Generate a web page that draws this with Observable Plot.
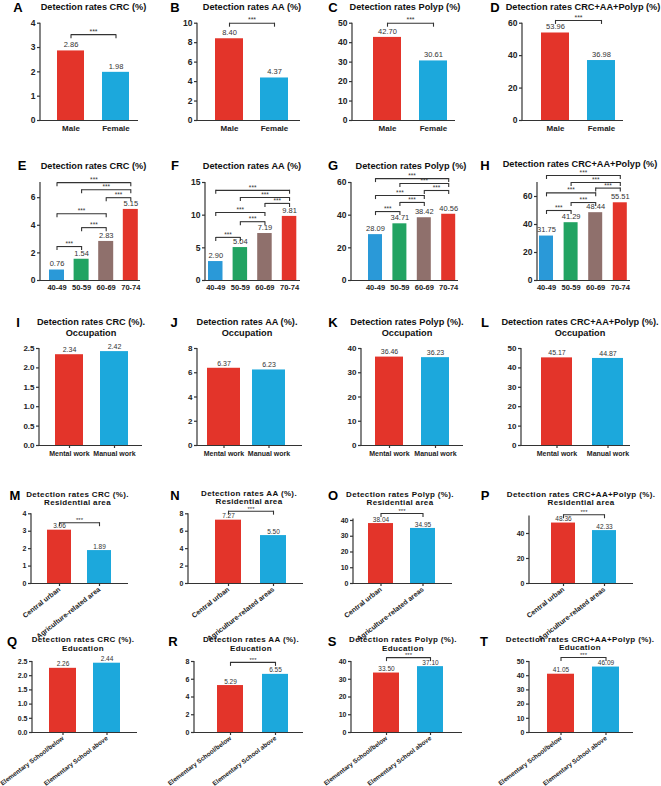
<!DOCTYPE html>
<html><head><meta charset="utf-8">
<script src="https://cdn.jsdelivr.net/npm/d3@7"></script>
<script src="https://cdn.jsdelivr.net/npm/@observablehq/plot@0.6"></script>
<style>
body{margin:0;background:#fff;}
#fig{position:relative;width:661px;height:786px;overflow:hidden;font-family:"Liberation Sans",Arial,sans-serif;background:#fff;}
.ttl{position:absolute;transform:translate(-50%,-50%);font-weight:bold;white-space:nowrap;text-align:center;color:#111;}
.let{position:absolute;transform:translate(-50%,-50%);font-weight:bold;color:#000;font-size:13px;line-height:1;}
.pnl{position:absolute;}
</style></head><body><div id="fig"></div>
<script>
// ---------- categories ----------
const sexCats = ["Male", "Female"];
const ageCats = ["40-49", "50-59", "60-69", "70-74"];
const occCats = ["Mental work", "Manual work"];
const resCats = ["Central urban", "Agriculture-related area"];
const resCats2 = ["Central urban", "Agriculture-related areas"];
const eduCats = ["Elementary School/below", "Elementary School above"];

// ---------- values (%) ----------
const crcSex = [2.86, 1.98], aaSex = [8.40, 4.37], polypSex = [42.70, 30.61], allSex = [53.96, 36.98];
const crcAge = [0.76, 1.54, 2.83, 5.15], aaAge = [2.90, 5.04, 7.19, 9.81];
const polypAge = [28.09, 34.71, 38.42, 40.56], allAge = [31.75, 41.29, 48.44, 55.51];
const crcOcc = [2.34, 2.42], aaOcc = [6.37, 6.23], polypOcc = [36.46, 36.23], allOcc = [45.17, 44.87];
const crcRes = [3.06, 1.89], aaRes = [7.27, 5.50], polypRes = [38.04, 34.95], allRes = [48.36, 42.33];
const crcEdu = [2.26, 2.44], aaEdu = [5.29, 6.55], polypEdu = [33.50, 37.10], allEdu = [41.05, 46.09];

// ---------- significance brackets: [from, to, level] ----------
const brA = [["Male", "Female", 3.53]], brB = [["Male", "Female", 10.0]];
const brC = [["Male", "Female", 50.0]], brD = [["Male", "Female", 61.7]];
const brE = [["40-49","70-74",7.09],["50-59","70-74",6.58],["60-69","70-74",6.0],["40-49","60-69",4.84],["50-59","60-69",3.83],["40-49","50-59",2.46]];
const brF = [["40-49","70-74",13.8],["50-59","70-74",12.7],["60-69","70-74",11.8],["40-49","60-69",10.4],["50-59","60-69",9.0],["40-49","50-59",6.6]];
const brG = [["40-49","70-74",62.4],["50-59","70-74",59.4],["60-69","70-74",55.1],["40-49","60-69",52.0],["50-59","60-69",47.8],["40-49","50-59",42.2]];
const brH = [["40-49","70-74",75],["50-59","70-74",70],["60-69","70-74",66],["40-49","60-69",62.6],["50-59","60-69",55.7],["40-49","50-59",50]];
const brM = [["Central urban", "Agriculture-related area", 3.49]];
const brN = [["Central urban", "Agriculture-related areas", 8.3]];
const brO = [["Central urban", "Agriculture-related areas", 44.4]];
const brP = [["Central urban", "Agriculture-related areas", 55]];
const brR = [["Elementary School/below", "Elementary School above", 7.9]];
const brS = [["Elementary School/below", "Elementary School above", 42.2]];
const brT = [["Elementary School/below", "Elementary School above", 52.8]];

// ---------- y tick values ----------
const t4 = [0,1,2,3,4], t10 = [0,2,4,6,8,10], t50 = [0,10,20,30,40,50], t60 = [0,20,40,60];
const t6 = [0,2,4,6], t15 = [0,5,10,15], t25 = [0,0.5,1,1.5,2,2.5], t8 = [0,2,4,6,8], t40 = [0,10,20,30,40];

// ---------- colours ----------
const RED = "#e3342a", BLUE = "#1ca8dc", BLUE2 = "#2a99d8", GREEN = "#22a362", BROWN = "#8f706c";
const twoCols = [RED, BLUE], ageCols = [BLUE2, GREEN, BROWN, RED];

// ---------- row styles ----------
const rows = [
  {top: 0,   h: 150, yfs: 8.5, xfs: 8,   xtick: 0, xpad: 5,   rot: 0,   vfs: 7.5, vdy: 6, sfs: 7, sdy: 3,   tfs: 9.2, ls: 0},
  {top: 150, h: 160, yfs: 8.5, xfs: 7.5, xtick: 0, xpad: 4,   rot: 0,   vfs: 7.5, vdy: 6, sfs: 6.5, sdy: 2.5, tfs: 9.2, ls: 0},
  {top: 310, h: 150, yfs: 8,   xfs: 7,   xtick: 3, xpad: 3,   rot: 0,   vfs: 7,   vdy: 5, sfs: 7, sdy: 3,   tfs: 9.2, ls: 0},
  {top: 460, h: 150, yfs: 7,   xfs: 7,   xtick: 3, xpad: 2,   rot: -38, vfs: 6.5, vdy: 4, sfs: 6, sdy: 2.5, tfs: 8,   ls: 0.35},
  {top: 610, h: 176, yfs: 7,   xfs: 6.4, xtick: 3, xpad: 2,   rot: -37, vfs: 6.5, vdy: 4, sfs: 6, sdy: 2.5, tfs: 8,   ls: 0.35}
];

// ---------- panels (layout in page pixels) ----------
const panels = [
  {L:"A", row:0, col:0, cats:sexCats, vals:crcSex,   cols:twoCols, br:brA, max:4,  ticks:t4,  ax:40,  fr:138, yt:22.7, yb:120, b0:57,  bw:27, st:45,
   lx:18, ly:7, title:["Detection rates CRC (%)"], tx:93.5, ty:7.5},
  {L:"B", row:0, col:1, cats:sexCats, vals:aaSex,    cols:twoCols, br:brB, max:10, ticks:t10, ax:197, fr:300, yt:22.7, yb:120, b0:215, bw:28, st:45,
   lx:175, ly:7, title:["Detection rates AA (%)"], tx:252, ty:7.5},
  {L:"C", row:0, col:2, cats:sexCats, vals:polypSex, cols:twoCols, br:brC, max:50, ticks:t50, ax:352, fr:455, yt:22.7, yb:120, b0:373, bw:28, st:46,
   lx:333, ly:7, title:["Detection rates Polyp (%)"], tx:405, ty:7.5},
  {L:"D", row:0, col:3, cats:sexCats, vals:allSex,   cols:twoCols, br:brD, max:60, ticks:t60, ax:522, fr:623, yt:22.7, yb:120, b0:541, bw:28, st:46,
   lx:495, ly:7, title:["Detection rates CRC+AA+Polyp (%)"], tx:583, ty:7.5},

  {L:"E", row:1, col:0, cats:ageCats, vals:crcAge,   cols:ageCols, br:brE, max:7.1, ticks:t6,  ax:40,  fr:140, yt:182, yb:280, b0:49,  bw:15, st:24.6,
   lx:22, ly:165, title:["Detection rates CRC (%)"], tx:93.5, ty:167},
  {L:"F", row:1, col:1, cats:ageCats, vals:aaAge,    cols:ageCols, br:brF, max:15,  ticks:t15, ax:205, fr:300, yt:182, yb:280, b0:208, bw:14.5, st:24.6,
   lx:175, ly:165, title:["Detection rates AA (%)"], tx:252, ty:167},
  {L:"G", row:1, col:2, cats:ageCats, vals:polypAge, cols:ageCols, br:brG, max:60,  ticks:t60, ax:351, fr:458, yt:182, yb:280, b0:368, bw:14, st:24.4,
   lx:333, ly:165, title:["Detection rates Polyp (%)"], tx:411, ty:167},
  {L:"H", row:1, col:3, cats:ageCats, vals:allAge,   cols:ageCols, br:brH, max:70,  ticks:t60, ax:537, fr:630, yt:182, yb:280, b0:539, bw:14, st:24.6,
   lx:485, ly:165, title:["Detection rates CRC+AA+Polyp (%)"], tx:580, ty:165},

  {L:"I", row:2, col:0, cats:occCats, vals:crcOcc,   cols:twoCols, br:[], max:2.5, ticks:t25, fmt:".1f", ax:39,  fr:142, yt:348, yb:445, b0:55,  bw:28, st:45,
   lx:18, ly:322, title:["Detection rates CRC (%).", "Occupation"], tx:91, ty:327},
  {L:"J", row:2, col:1, cats:occCats, vals:aaOcc,    cols:twoCols, br:[], max:8,   ticks:t8,  ax:197, fr:302, yt:348, yb:445, b0:207, bw:33, st:45,
   lx:174, ly:322, title:["Detection rates AA (%).", "Occupation"], tx:247, ty:327},
  {L:"K", row:2, col:2, cats:occCats, vals:polypOcc, cols:twoCols, br:[], max:40,  ticks:t40, ax:361, fr:463, yt:348, yb:445, b0:375, bw:28, st:46,
   lx:333, ly:322, title:["Detection rates Polyp (%).", "Occupation"], tx:407, ty:327},
  {L:"L", row:2, col:3, cats:occCats, vals:allOcc,   cols:twoCols, br:[], max:50,  ticks:t50, ax:521, fr:630, yt:348, yb:445, b0:541, bw:31, st:51,
   lx:485, ly:322, title:["Detection rates CRC+AA+Polyp (%).", "Occupation"], tx:580, ty:327},

  {L:"M", row:3, col:0, cats:resCats,  vals:crcRes,   cols:twoCols, br:brM, max:4,  ticks:t4,  ax:31,  fr:128, yt:513.3, yb:583, b0:47,  bw:24, st:40,
   lx:15, ly:495, title:["Detection rates CRC (%).", "Residential area"], tx:77.5, ty:498.5},
  {L:"N", row:3, col:1, cats:resCats2, vals:aaRes,    cols:twoCols, br:brN, max:8,  ticks:t8,  ax:188, fr:303, yt:513.3, yb:583, b0:215, bw:26, st:45,
   lx:175, ly:495, title:["Detection rates AA (%).", "Residential area"], tx:249, ty:497.5},
  {L:"O", row:3, col:2, cats:resCats2, vals:polypRes, cols:twoCols, br:brO, max:41, ticks:t40, ax:353, fr:452, yt:518.4, yb:583, b0:368, bw:25, st:42,
   lx:333, ly:495, title:["Detection rates Polyp (%).", "Residential area"], tx:400, ty:498.5},
  {L:"P", row:3, col:3, cats:resCats2, vals:allRes,   cols:twoCols, br:brP, max:54, ticks:[0,20,40], ax:529, fr:633, yt:515.5, yb:583, b0:551, bw:24, st:41,
   lx:485, ly:495, title:["Detection rates CRC+AA+Polyp (%).", "Residential area"], tx:581, ty:498.5},

  {L:"Q", row:4, col:0, cats:eduCats, vals:crcEdu,   cols:twoCols, br:[],  max:2.5, ticks:t25, fmt:".1f", ax:32,  fr:137, yt:661, yb:732, b0:49,  bw:27, st:44,
   lx:12, ly:641, title:["Detection rates CRC (%).", "Education"], tx:83, ty:644},
  {L:"R", row:4, col:1, cats:eduCats, vals:aaEdu,    cols:twoCols, br:brR, max:8,   ticks:t8,  ax:194, fr:303, yt:661, yb:732, b0:217, bw:26, st:45,
   lx:173, ly:641, title:["Detection rates AA (%).", "Education"], tx:251, ty:644},
  {L:"S", row:4, col:2, cats:eduCats, vals:polypEdu, cols:twoCols, br:brS, max:40,  ticks:t40, ax:351, fr:462, yt:661, yb:732, b0:373, bw:26, st:44,
   lx:332, ly:641, title:["Detection rates Polyp (%).", "Education"], tx:403, ty:644},
  {L:"T", row:4, col:3, cats:eduCats, vals:allEdu,   cols:twoCols, br:brT, max:50,  ticks:t50, ax:529, fr:633, yt:661, yb:732, b0:547, bw:27, st:45,
   lx:484, ly:641, title:["Detection rates CRC+AA+Polyp (%).", "Education"], tx:580, ty:643.5}
];

const fig = document.getElementById("fig");
const f2 = d3.format(".2f");
const INK = "#333";

// vertical y-axis line drawn from the plot's own dimensions
function yAxisLine(index, scales, values, dims) {
  return d3.create("svg:line")
    .attr("x1", dims.marginLeft).attr("x2", dims.marginLeft)
    .attr("y1", dims.marginTop).attr("y2", dims.height - dims.marginBottom)
    .attr("stroke", INK).attr("stroke-width", 1.2).node();
}

for (const p of panels) {
  const R = rows[p.row];
  const ox = p.col * 165, oy = R.top, W = 166, H = R.h;
  const n = p.cats.length;
  const gap = p.st - p.bw, pad = gap / p.st;
  const r0 = p.b0 - gap - ox, r1 = r0 + p.st * (n + pad);
  const pxPer = (p.yb - p.yt) / p.max;
  const leg = 4 / pxPer;
  const data = p.cats.map((c, i) => ({c, v: p.vals[i], col: p.cols[i]}));
  const br = p.br.map(([a, b, l]) => ({a, b, l}));
  const legs = br.flatMap(d => [{c: d.a, l: d.l}, {c: d.b, l: d.l}]);
  const stars = br.map(d => Plot.text([d], {
    x: q => q.a, y: q => q.l, text: () => "***",
    dx: (p.cats.indexOf(d.b) - p.cats.indexOf(d.a)) * p.st / 2,
    dy: -R.sdy, fontSize: R.sfs, fill: INK
  }));
  const svg = Plot.plot({
    width: W, height: H,
    marginLeft: p.ax - ox, marginRight: ox + W - p.fr,
    marginTop: p.yt - oy, marginBottom: oy + H - p.yb,
    style: {background: "transparent", overflow: "visible", fontFamily: "'Liberation Sans', Arial, sans-serif", color: "#222"},
    x: {type: "band", domain: p.cats, range: [r0, r1], paddingInner: pad, paddingOuter: pad, align: 0.5, round: false},
    y: {domain: [0, p.max]},
    color: {type: "identity"},
    marks: [
      Plot.barY(data, {x: "c", y: "v", fill: "col"}),
      Plot.ruleY([0], {stroke: INK, strokeWidth: 1.2}),
      yAxisLine,
      Plot.axisY({ticks: p.ticks, tickSize: 3, tickPadding: 2, tickFormat: p.fmt ? d3.format(p.fmt) : d3.format("d"),
                  fontSize: R.yfs, fontWeight: "bold", label: null, stroke: INK, strokeWidth: 1.2}),
      Plot.axisX({tickSize: R.xtick, tickPadding: R.xpad, tickRotate: R.rot, fontSize: R.xfs, fontWeight: "bold",
                  label: null, stroke: INK, strokeWidth: 1.2}),
      Plot.text(data, {x: "c", y: "v", text: d => f2(d.v), dy: -R.vdy, fontSize: R.vfs, fill: INK}),
      Plot.link(br, {x1: "a", x2: "b", y1: "l", y2: "l", stroke: INK, strokeWidth: 1.1}),
      Plot.ruleX(legs, {x: "c", y1: "l", y2: d => d.l - leg, stroke: INK, strokeWidth: 1.1}),
      ...stars
    ]
  });
  svg.classList.add("pnl");
  svg.style.left = ox + "px";
  svg.style.top = oy + "px";
  fig.appendChild(svg);

  const t = document.createElement("div");
  t.className = "ttl";
  t.style.left = p.tx + "px"; t.style.top = p.ty + "px";
  t.style.fontSize = R.tfs + "px";
  t.style.lineHeight = (p.title.length > 1 ? (R.tfs > 9 ? 10.5 : 8.5) : R.tfs * 1.2) + "px";
  t.style.letterSpacing = R.ls + "px";
  t.innerHTML = p.title.join("<br>");
  fig.appendChild(t);

  const l = document.createElement("div");
  l.className = "let";
  l.style.left = p.lx + "px"; l.style.top = p.ly + "px";
  l.textContent = p.L;
  fig.appendChild(l);
}
</script></body></html>
